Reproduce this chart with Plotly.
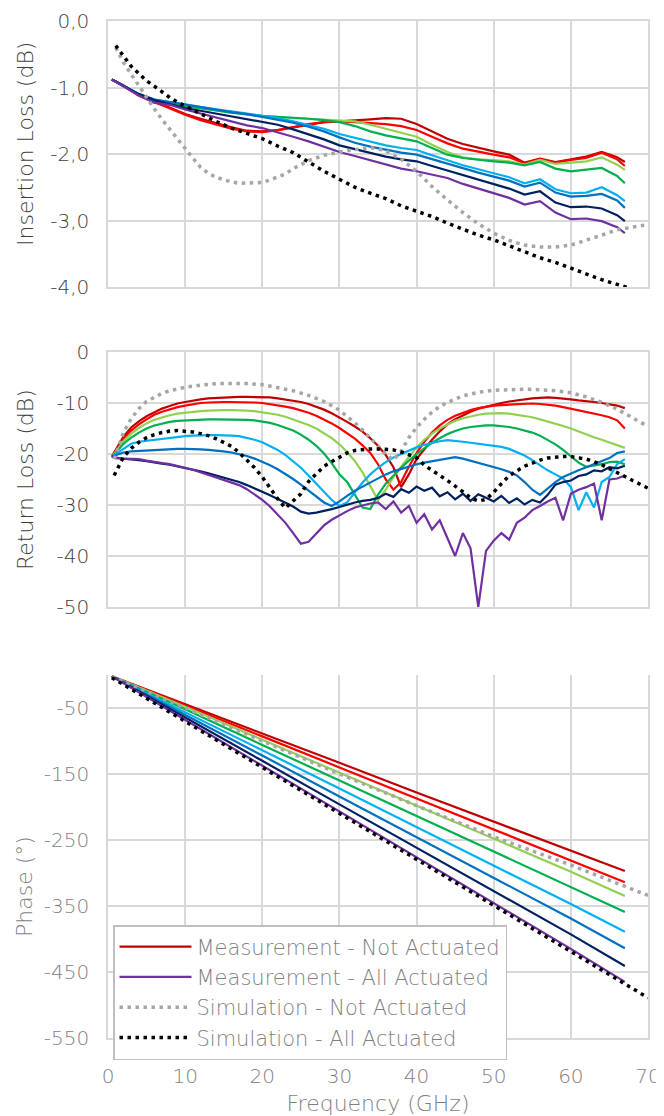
import plotly.graph_objects as go

# ---------------- data ----------------
STATE_NAMES = ["Not Actuated", "State 2", "State 3", "State 4", "State 5", "State 6", "State 7", "All Actuated"]
STATE_COLORS = ["#C00000", "#FF0000", "#92D050", "#00B050", "#00B0F0", "#0070C0", "#002060", "#7030A0"]

# Insertion loss, measured (dB)
F_IL = [0.5, 2, 4, 6, 8, 10, 12, 14, 16, 18, 20, 22, 24, 26, 28, 30, 32, 34, 36, 38, 40,
        42, 44, 46, 48, 50, 52, 54, 56, 58, 60, 62, 64, 66, 67]
IL_S1 = [-0.88, -0.97, -1.12, -1.22, -1.30, -1.40, -1.47, -1.54, -1.60, -1.65, -1.66, -1.64, -1.60, -1.56, -1.52,
         -1.51, -1.50, -1.48, -1.46, -1.47, -1.55, -1.66, -1.77, -1.85, -1.91, -1.96, -2.01, -2.13, -2.07, -2.12,
         -2.08, -2.04, -1.97, -2.05, -2.12]
IL_S2 = [-0.88, -0.97, -1.12, -1.22, -1.32, -1.41, -1.49, -1.56, -1.62, -1.66, -1.67, -1.64, -1.59, -1.55, -1.52,
         -1.51, -1.52, -1.53, -1.55, -1.58, -1.64, -1.74, -1.84, -1.92, -1.97, -2.01, -2.05, -2.14, -2.08, -2.13,
         -2.09, -2.06, -1.98, -2.08, -2.18]
IL_S3 = [-0.88, -0.97, -1.10, -1.19, -1.24, -1.28, -1.31, -1.35, -1.38, -1.41, -1.43, -1.45, -1.46, -1.47, -1.48,
         -1.49, -1.51, -1.56, -1.62, -1.68, -1.74, -1.86, -1.97, -2.05, -2.08, -2.09, -2.11, -2.16, -2.09, -2.15,
         -2.13, -2.11, -2.05, -2.16, -2.24]
IL_S4 = [-0.88, -0.97, -1.10, -1.19, -1.24, -1.28, -1.31, -1.35, -1.38, -1.40, -1.43, -1.44, -1.45, -1.47, -1.49,
         -1.52, -1.58, -1.66, -1.72, -1.77, -1.81, -1.91, -2.01, -2.06, -2.09, -2.11, -2.13, -2.17, -2.12, -2.22,
         -2.26, -2.24, -2.21, -2.33, -2.44]
IL_S5 = [-0.88, -0.97, -1.10, -1.18, -1.22, -1.26, -1.29, -1.33, -1.36, -1.39, -1.42, -1.46, -1.51, -1.56, -1.62,
         -1.70, -1.76, -1.81, -1.87, -1.91, -1.94, -2.02, -2.10, -2.17, -2.23, -2.29, -2.35, -2.44, -2.38, -2.53,
         -2.59, -2.58, -2.50, -2.62, -2.71]
IL_S6 = [-0.88, -0.97, -1.10, -1.18, -1.22, -1.26, -1.29, -1.33, -1.37, -1.40, -1.44, -1.48, -1.53, -1.59, -1.66,
         -1.75, -1.83, -1.89, -1.94, -1.98, -2.01, -2.08, -2.15, -2.22, -2.28, -2.34, -2.40, -2.49, -2.43, -2.58,
         -2.64, -2.63, -2.60, -2.70, -2.81]
IL_S7 = [-0.88, -0.97, -1.10, -1.19, -1.25, -1.31, -1.35, -1.39, -1.43, -1.47, -1.51, -1.56, -1.63, -1.70, -1.78,
         -1.87, -1.93, -1.98, -2.04, -2.08, -2.11, -2.18, -2.25, -2.32, -2.39, -2.46, -2.52, -2.61, -2.56, -2.73,
         -2.80, -2.79, -2.82, -2.92, -3.01]
IL_S8 = [-0.88, -0.98, -1.12, -1.23, -1.26, -1.33, -1.39, -1.46, -1.52, -1.57, -1.61, -1.67, -1.74, -1.81, -1.89,
         -1.97, -2.03, -2.09, -2.16, -2.22, -2.26, -2.31, -2.36, -2.45, -2.52, -2.59, -2.66, -2.76, -2.71, -2.88,
         -2.98, -2.97, -3.01, -3.10, -3.19]

# Insertion loss, simulated (dB)
F_IL_SIM_NA = [1, 2, 3, 4, 5, 6, 7, 8, 9, 10, 11, 12, 13, 14, 15, 16, 17, 18, 19, 20, 21, 22, 23, 24, 25, 26,
               27, 28, 30, 32, 34, 36, 38, 40, 42, 44, 46, 48, 50, 52, 54, 56, 58, 60, 62, 64, 66, 68, 70]
IL_SIM_NA = [-0.40, -0.62, -0.80, -0.98, -1.16, -1.32, -1.48, -1.63, -1.77, -1.92, -2.06, -2.20, -2.29, -2.35,
             -2.39, -2.42, -2.44, -2.44, -2.44, -2.43, -2.39, -2.35, -2.30, -2.22, -2.16, -2.10, -2.06, -2.02,
             -1.97, -1.93, -1.90, -1.95, -2.08, -2.26, -2.49, -2.69, -2.88, -3.05, -3.19, -3.30, -3.37, -3.40,
             -3.40, -3.37, -3.30, -3.22, -3.14, -3.10, -3.06]
F_IL_SIM_AA = [1, 2, 3, 4, 5, 6, 7, 8, 9, 10, 12, 14, 16, 18, 20, 22, 24, 26, 28, 30, 32, 34, 36, 38, 40,
               42, 44, 46, 48, 50, 52, 54, 56, 58, 60, 62, 64, 66, 68, 70]
IL_SIM_AA = [-0.37, -0.53, -0.68, -0.79, -0.90, -0.98, -1.07, -1.15, -1.22, -1.28, -1.40, -1.51, -1.61, -1.69,
             -1.77, -1.88, -1.98, -2.12, -2.26, -2.38, -2.50, -2.59, -2.67, -2.78, -2.86, -2.94, -3.04, -3.13,
             -3.22, -3.29, -3.38, -3.48, -3.56, -3.63, -3.72, -3.81, -3.89, -3.96, -4.03, -4.10]

# Return loss, measured (dB)
F_RL = [0.5, 1, 2, 3, 4, 5, 6, 7, 8, 9, 10, 11, 12, 13, 14, 15, 16, 17, 18, 19, 20, 21, 22, 23, 24, 25, 26,
        27, 28, 29, 30, 31, 32, 33, 34, 35, 36, 37, 38, 39, 40, 41, 42, 43, 44, 45, 46, 47, 48, 49, 50, 51,
        52, 53, 54, 55, 56, 57, 58, 59, 60, 61, 62, 63, 64, 65, 66, 67]
RL_S1 = [-20.5, -19.2, -16.6, -14.8, -13.6, -12.6, -11.8, -11.1, -10.6, -10.1, -9.8, -9.5, -9.3, -9.1, -9.0,
         -8.9, -8.8, -8.8, -8.8, -8.8, -8.8, -8.9, -9.1, -9.3, -9.5, -9.8, -10.2, -10.7, -11.3, -12.0, -12.8,
         -13.7, -14.6, -15.6, -16.9, -18.4, -20.2, -22.6, -26.5, -24.0, -21.0, -19.0, -17.2, -15.6, -14.2,
         -13.2, -12.4, -11.7, -11.1, -10.7, -10.3, -10.0, -9.7, -9.5, -9.2, -9.1, -9.0, -8.9, -9.0, -9.1,
         -9.3, -9.5, -9.6, -9.8, -10.0, -10.2, -10.5, -11.0]
RL_S2 = [-20.5, -19.4, -17.0, -15.4, -14.2, -13.2, -12.3, -11.7, -11.2, -10.8, -10.5, -10.2, -10.0, -9.9, -9.8,
         -9.8, -9.8, -9.8, -9.8, -9.9, -10.0, -10.2, -10.4, -10.7, -11.0, -11.4, -11.9, -12.5, -13.2, -14.0,
         -14.9, -15.9, -17.0, -18.3, -19.8, -22.0, -25.0, -27.0, -25.5, -22.5, -19.8, -17.6, -15.8, -14.4,
         -13.3, -12.5, -11.9, -11.4, -11.0, -10.7, -10.5, -10.4, -10.3, -10.2, -10.2, -10.1, -10.2, -10.3,
         -10.5, -10.8, -11.1, -11.4, -11.7, -12.0, -12.4, -12.8, -13.4, -15.0]
RL_S3 = [-20.5, -19.6, -17.5, -16.0, -14.9, -14.0, -13.3, -12.8, -12.4, -12.1, -11.9, -11.7, -11.6, -11.5,
         -11.4, -11.4, -11.4, -11.4, -11.5, -11.6, -11.8, -12.0, -12.3, -12.7, -13.2, -13.7, -14.3, -15.0,
         -15.9, -16.9, -18.1, -19.6, -21.4, -23.6, -26.3, -29.0, -27.0, -24.5, -22.5, -20.5, -18.7, -17.2,
         -16.0, -15.0, -14.2, -13.5, -13.0, -12.6, -12.3, -12.1, -12.0, -12.0, -12.1, -12.3, -12.5, -12.8,
         -13.2, -13.6, -14.1, -14.5, -15.0, -15.6, -16.2, -16.7, -17.2, -17.7, -18.2, -18.8]
RL_S4 = [-20.5, -19.8, -18.0, -16.8, -15.8, -15.0, -14.4, -14.0, -13.7, -13.5, -13.4, -13.3, -13.2, -13.2,
         -13.2, -13.2, -13.2, -13.2, -13.3, -13.4, -13.6, -13.9, -14.3, -14.8, -15.4, -16.2, -17.2, -18.4,
         -19.9, -21.8, -24.0, -25.5, -28.0, -30.5, -30.8, -28.0, -25.8, -24.2, -22.7, -21.3, -20.0, -18.9,
         -17.8, -16.9, -16.1, -15.5, -15.0, -14.7, -14.5, -14.4, -14.4, -14.5, -14.7, -15.0, -15.4, -15.8,
         -16.4, -17.2, -18.1, -19.2, -20.5, -21.7, -22.5, -22.3, -22.0, -21.6, -21.5, -22.0]
RL_S5 = [-20.5, -20.0, -18.9, -18.0, -17.6, -17.4, -17.2, -17.0, -16.8, -16.6, -16.5, -16.4, -16.3, -16.3,
         -16.3, -16.3, -16.4, -16.5, -16.8, -17.2, -17.7, -18.4, -19.2, -20.2, -21.4, -22.7, -24.2, -25.8,
         -27.5, -29.0, -30.2, -29.5, -27.5, -25.6, -24.0, -22.7, -21.6, -20.7, -20.0, -19.3, -18.7, -18.2,
         -17.8, -17.5, -17.3, -17.4, -17.6, -17.8, -18.0, -18.1, -18.3, -18.6, -19.0, -19.6, -20.3, -21.2,
         -22.2, -23.2, -24.0, -24.8, -26.5, -31.0, -27.5, -30.5, -25.5, -24.5, -22.0, -21.0]
RL_S6 = [-20.5, -20.2, -19.7, -19.5, -19.4, -19.3, -19.2, -19.1, -19.0, -19.0, -19.0, -19.0, -19.1, -19.2,
         -19.3, -19.5, -19.7, -20.0, -20.4, -20.9, -21.5, -22.2, -23.0, -23.9, -24.9, -26.0, -27.2, -28.4,
         -29.5, -30.2, -29.3, -28.2, -27.2, -26.4, -25.6, -24.8, -24.0, -23.4, -22.9, -22.4, -22.0, -21.7,
         -21.4, -21.1, -20.8, -20.6, -20.9, -21.3, -21.8, -22.2, -22.6, -23.0, -23.5, -24.2, -25.5, -27.0,
         -28.0, -26.8, -25.5, -24.5, -23.8, -23.2, -22.6, -22.0, -21.4, -20.8, -19.8, -19.5]
RL_S7 = [-20.5, -20.7, -20.9, -21.0, -21.2, -21.4, -21.7, -21.9, -22.1, -22.4, -22.7, -23.0, -23.4, -23.8,
         -24.2, -24.6, -25.0, -25.5, -26.1, -26.7, -27.4, -28.1, -28.8, -29.5, -30.3, -31.3, -31.7, -31.5,
         -31.2, -30.8, -30.4, -29.9, -29.5, -29.2, -29.0, -28.6, -27.8, -28.4, -26.9, -27.6, -26.4, -27.2,
         -26.6, -28.3, -27.5, -28.9, -27.8, -29.2, -27.9, -28.6, -29.3, -28.2, -29.6, -28.7, -29.9, -29.0,
         -29.5, -28.0, -26.0, -25.5, -25.2, -24.3, -24.0, -23.2, -23.4, -22.6, -22.8, -22.3]
RL_S8 = [-20.5, -20.8, -20.9, -20.9, -21.0, -21.3, -21.6, -21.8, -22.0, -22.3, -22.7, -23.1, -23.6, -24.0,
         -24.5, -25.0, -25.5, -26.1, -26.9, -27.9, -29.0, -30.3, -31.8, -33.5, -35.5, -37.6, -37.2, -35.6,
         -34.0, -32.9, -32.0, -31.2, -30.5, -30.1, -29.7, -29.5, -30.8, -29.3, -31.5, -30.2, -33.5, -31.8,
         -34.8, -33.0, -36.5, -40.0, -35.5, -38.5, -50.0, -39.0, -37.0, -35.5, -36.8, -33.5, -32.5, -31.0,
         -30.2, -29.3, -28.6, -33.0, -27.8, -27.0, -26.5, -25.8, -33.0, -25.0, -24.8, -24.2]

# Return loss, simulated (dB)
F_RL_SIM_NA = [0.8, 1.2, 2, 3, 4, 5, 6, 7, 8, 9, 10, 12, 14, 16, 18, 20, 22, 24, 26, 28, 30, 31, 32, 33, 34,
               35, 36, 37, 38, 39, 40, 41, 42, 43, 44, 46, 48, 50, 52, 54, 56, 58, 60, 62, 64, 66, 68, 70]
RL_SIM_NA = [-21.0, -19.3, -15.8, -13.1, -11.1, -9.7, -8.8, -8.1, -7.6, -7.2, -6.9, -6.5, -6.2, -6.2, -6.2,
             -6.4, -7.0, -7.6, -8.5, -9.7, -11.4, -12.6, -13.9, -15.3, -16.8, -18.3, -20.0, -21.2, -19.5, -16.8,
             -14.8, -13.2, -11.8, -10.7, -9.9, -8.6, -7.9, -7.5, -7.4, -7.3, -7.4, -7.6, -8.0, -8.8, -9.9,
             -11.2, -12.9, -14.6]
F_RL_SIM_AA = [0.8, 1.4, 2, 3, 4, 5, 6, 7, 8, 9, 10, 11, 12, 13, 14, 15, 16, 17, 18, 19, 20, 21, 22, 23, 24,
               25, 26, 27, 28, 29, 30, 31, 32, 33, 34, 35, 36, 37, 38, 39, 40, 41, 42, 43, 44, 45, 46, 47, 48,
               49, 50, 51, 52, 53, 54, 55, 56, 57, 58, 59, 60, 61, 62, 63, 64, 65, 66, 67, 68, 69, 70]
RL_SIM_AA = [-24.2, -22.5, -20.6, -18.9, -17.7, -16.8, -16.2, -15.8, -15.5, -15.4, -15.5, -15.7, -16.0, -16.4,
             -17.0, -17.7, -18.5, -19.7, -21.1, -22.7, -24.5, -26.6, -28.8, -30.6, -29.2, -27.8, -25.4, -24.0,
             -22.4, -21.5, -20.6, -19.8, -19.3, -19.1, -19.0, -19.0, -19.1, -19.2, -19.6, -20.1, -20.7, -22.2,
             -23.3, -24.2, -25.2, -26.2, -27.4, -28.6, -29.2, -28.9, -27.5, -25.8, -24.3, -23.3, -22.4, -21.8,
             -21.2, -20.8, -20.6, -20.5, -20.5, -20.7, -21.0, -21.5, -22.1, -22.9, -23.6, -24.4, -25.2, -25.9,
             -26.7]

# Phase, measured (deg)
F_PH = [0.5, 10, 20, 30, 40, 50, 60, 67]
PH_S1 = [-2, -44, -89, -133, -178, -222, -265, -297]
PH_S2 = [-2, -46, -93, -140, -187, -234, -281, -314]
PH_S3 = [-2, -48, -98, -148, -198, -248, -298, -335]
PH_S4 = [-2, -52, -106, -160, -213, -267, -321, -359]
PH_S5 = [-2, -56, -114, -172, -230, -288, -347, -389]
PH_S6 = [-2, -60, -122, -184, -246, -307, -369, -414]
PH_S7 = [-2, -64, -130, -196, -262, -327, -393, -441]
PH_S8 = [-2, -68, -137, -207, -276, -346, -415, -465]

# Phase, simulated (deg)
F_PH_SIM = [0.5, 10, 20, 30, 40, 50, 60, 70]
PH_SIM_NA = [-2, -50, -100, -150, -198, -245, -288, -334]
PH_SIM_AA = [-4, -70, -140, -209, -279, -349, -419, -489]

# Axis ticks
FREQ_TICKS = [0, 10, 20, 30, 40, 50, 60, 70]
FREQ_TICKTEXT = ["0", "10", "20", "30", "40", "50", "60", "70"]
IL_TICKS = [0, -1, -2, -3, -4]
IL_TICKTEXT = ["0,0", "-1,0", "-2,0", "-3,0", "-4,0"]
RL_TICKS = [0, -10, -20, -30, -40, -50]
RL_TICKTEXT = ["0", "-10", "-20", "-30", "-40", "-50"]
PH_TICKS = [-50, -150, -250, -350, -450, -550]
PH_TICKTEXT = ["-50", "-150", "-250", "-350", "-450", "-550"]

IL_MEAS = [IL_S1, IL_S2, IL_S3, IL_S4, IL_S5, IL_S6, IL_S7, IL_S8]
RL_MEAS = [RL_S1, RL_S2, RL_S3, RL_S4, RL_S5, RL_S6, RL_S7, RL_S8]
PH_MEAS = [PH_S1, PH_S2, PH_S3, PH_S4, PH_S5, PH_S6, PH_S7, PH_S8]

# ---------------- figure ----------------
FONT = "DejaVu Sans"
WEIGHT = 200
DARK = "#404040"
MID = "#7f7f7f"
GRID = "#d9d9d9"
SIM_NA_COLOR = "#a6a6a6"
SIM_AA_COLOR = "#000000"
DOT = "3.5px,4.5px"

fig = go.Figure()

panels = [
    ("x", "y", F_IL, IL_MEAS, F_IL_SIM_NA, IL_SIM_NA, F_IL_SIM_AA, IL_SIM_AA),
    ("x2", "y2", F_RL, RL_MEAS, F_RL_SIM_NA, RL_SIM_NA, F_RL_SIM_AA, RL_SIM_AA),
    ("x3", "y3", F_PH, PH_MEAS, F_PH_SIM, PH_SIM_NA, F_PH_SIM, PH_SIM_AA),
]

for pi, (xa, ya, fx, meas, fna, sna, faa, saa) in enumerate(panels):
    for i, (name, col, ys) in enumerate(zip(STATE_NAMES, STATE_COLORS, meas)):
        show = (pi == 0) and (i == 0 or i == len(STATE_NAMES) - 1)
        fig.add_trace(go.Scatter(
            x=fx, y=ys, xaxis=xa, yaxis=ya, mode="lines",
            line=dict(color=col, width=2.2),
            name="Measurement - " + name,
            legendgroup="meas" + str(i), showlegend=show,
            legendrank=1 if i == 0 else 2,
        ))
    fig.add_trace(go.Scatter(
        x=fna, y=sna, xaxis=xa, yaxis=ya, mode="lines",
        line=dict(color=SIM_NA_COLOR, width=3.5, dash=DOT),
        name="Simulation - Not Actuated", legendgroup="simna",
        showlegend=(pi == 0), legendrank=3,
    ))
    fig.add_trace(go.Scatter(
        x=faa, y=saa, xaxis=xa, yaxis=ya, mode="lines",
        line=dict(color=SIM_AA_COLOR, width=3.5, dash=DOT),
        name="Simulation - All Actuated", legendgroup="simaa",
        showlegend=(pi == 0), legendrank=4,
    ))

# The page body has an 8 px margin, so the figure is placed 8 px in from the window edge.
OFF = 8
W, H = 664 - OFF, 1116 - OFF
# plot area in window pixels: x 108..648, bottom 1038, top 21
ML = 108 - OFF
MR = W - (648 - OFF)
MT = 21 - OFF
MB = H - (1038 - OFF)
PA_H = H - MT - MB
PA_W = W - ML - MR
BOTTOM = 1038


def dom(top_px, bot_px):
    return [(BOTTOM - bot_px) / PA_H, (BOTTOM - top_px) / PA_H]


def px_y(py):
    return (BOTTOM - py) / PA_H


def px_x(px):
    return (px - 108) / PA_W


common_x = dict(range=[0, 70], tickvals=FREQ_TICKS, ticktext=FREQ_TICKTEXT, showgrid=True,
                gridcolor=GRID, gridwidth=1.5, zeroline=False, ticks="", automargin=False,
                showline=True, linecolor=GRID, linewidth=1.5)
common_y = dict(showgrid=True, gridcolor=GRID, gridwidth=1.5, zeroline=False, ticks="",
                automargin=False, showline=True, linecolor=GRID, linewidth=1.5, mirror=True,
                ticklabelstandoff=13)

fig.update_layout(
    width=W, height=H,
    margin=dict(l=ML, r=MR, t=MT, b=MB, pad=0),
    paper_bgcolor="white", plot_bgcolor="white",
    font=dict(family=FONT, size=20, color=DARK, weight=WEIGHT),
    showlegend=True,
    legend=dict(
        x=px_x(113), y=px_y(925), xanchor="left", yanchor="top",
        bgcolor="white", bordercolor="#bfbfbf", borderwidth=1.5,
        font=dict(family=FONT, size=21, color=MID, weight=WEIGHT),
        itemwidth=72, tracegroupgap=0, traceorder="normal",
    ),
    xaxis=dict(common_x, anchor="y", showticklabels=False, mirror=True),
    xaxis2=dict(common_x, anchor="y2", matches="x", showticklabels=False, mirror=True),
    xaxis3=dict(common_x, anchor="y3", matches="x", showticklabels=True,
                tickfont=dict(size=20, color=MID), ticklabelstandoff=19,
                title=dict(text="Frequency (GHz)", font=dict(size=22, color=MID), standoff=10)),
    yaxis=dict(common_y, domain=dom(21, 287), range=[-4, 0], tickvals=IL_TICKS, ticktext=IL_TICKTEXT,
               tickfont=dict(size=20, color=DARK)),
    yaxis2=dict(common_y, domain=dom(352, 607), range=[-50, 0], tickvals=RL_TICKS, ticktext=RL_TICKTEXT,
                tickfont=dict(size=20, color=DARK)),
    yaxis3=dict(common_y, domain=dom(675, 1038), range=[-550, 0], tickvals=PH_TICKS, ticktext=PH_TICKTEXT,
                tickfont=dict(size=20, color=MID)),
    annotations=[
        dict(text="Insertion Loss (dB)", x=px_x(25), y=px_y(144), xref="paper", yref="paper",
             xanchor="center", yanchor="middle",
             textangle=-90, showarrow=False, font=dict(size=22, color=DARK)),
        dict(text="Return Loss (dB)", x=px_x(25), y=px_y(480), xref="paper", yref="paper",
             xanchor="center", yanchor="middle",
             textangle=-90, showarrow=False, font=dict(size=22, color=DARK)),
        dict(text="Phase (°)", x=px_x(25), y=px_y(887), xref="paper", yref="paper",
             xanchor="center", yanchor="middle",
             textangle=-90, showarrow=False, font=dict(size=22, color=MID)),
    ],
)

fig.write_html("out.html")
